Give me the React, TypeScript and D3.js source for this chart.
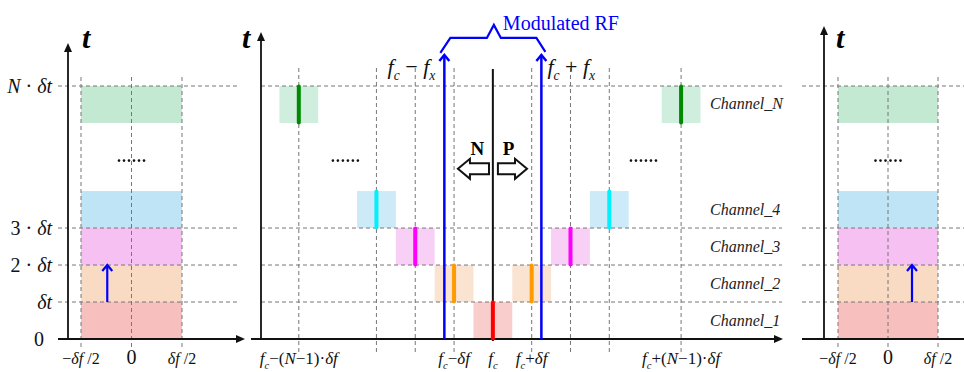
import * as d3 from "d3";

const FONT = "Liberation Serif, DejaVu Serif, serif";
const W = 964;
const H = 372;

type Part = [string, "r" | "i" | "s" | "b"];

// time axis (units of δt)
const timeTicks = [0, 1, 2, 3, 6.84];
const timeTickLabels: Part[][] = [
  [["0", "r"]],
  [["δt", "i"]],
  [["2 · ", "r"], ["δt", "i"]],
  [["3 · ", "r"], ["δt", "i"]],
  [["N", "i"], [" · ", "r"], ["δt", "i"]],
];
const gridTimes = [1, 2, 3, 6.84];

// channels
const channelNames = ["Channel_1", "Channel_2", "Channel_3", "Channel_4", "Channel_N"];
const channelStart = [0, 1, 2, 3, 5.84];
const channelFill = ["#f7bfbe", "#f9dbc4", "#f6c1f2", "#bfe4f6", "#c3e9d3"];
const channelBar = ["#ff0000", "#ff9a00", "#ff00ff", "#00f0ff", "#008a00"];
const lowerOffset = [0, -1, -2, -3, -5]; // δf units from fc
const upperOffset = [0, 1, 2, 3, 4.85];

// frequency grid of the middle panel (δf units)
const gridOffsets = [-5, -3, -2, -1, 1, 2, 3, 4.85];
const freqLabelOffsets = [-5, -1, 0, 1, 4.85];
const freqLabels: Part[][] = [
  [["f", "i"], ["c", "s"], ["−(", "r"], ["N", "i"], ["−1)·", "r"], ["δf", "i"]],
  [["f", "i"], ["c", "s"], ["−", "r"], ["δf", "i"]],
  [["f", "i"], ["c", "s"]],
  [["f", "i"], ["c", "s"], ["+", "r"], ["δf", "i"]],
  [["f", "i"], ["c", "s"], ["+(", "r"], ["N", "i"], ["−1)·", "r"], ["δf", "i"]],
];
const fxOffset = 1.25;
const fxTop = 7.68;
const carrierTop = 7.3;
const midDots = [-3.8, 3.88];
const dotsTime = 4.85;
const npArrowTime = 4.6;
const npArrows = [
  { tip: -0.9, tail: -0.1, label: "N" },
  { tip: 0.88, tail: 0.13, label: "P" },
];

// baseband panels (δf units)
const baseTicks = [-0.5, 0, 0.5];
const baseTickLabels: Part[][] = [
  [["−", "r"], ["δf", "i"], [" /2", "r"]],
  [["0", "r"]],
  [["δf", "i"], [" /2", "r"]],
];
const baseArrow = [-0.24, 0.24];

const y = d3.scaleLinear().domain([0, 6.84]).range([339, 86]);
const xMid = d3.scaleLinear().domain([-6, 7.45]).range([260, 782]);

function Rich({ parts, x, yy, size, anchor = "start", fill = "#111" }: { parts: Part[]; x: number; yy: number; size: number; anchor?: string; fill?: string }) {
  let sub = false;
  return (
    <text x={x} y={yy} style={{ fontFamily: FONT }} fontSize={size} textAnchor={anchor} fill={fill}>
      {parts.map(([t, s], i) => {
        const isSub = s === "s";
        const dy = isSub && !sub ? size * 0.28 : !isSub && sub ? -size * 0.28 : 0;
        sub = isSub;
        return (
          <tspan
            key={i}
            dy={dy || undefined}
            fontStyle={s === "r" || s === "b" ? "normal" : "italic"}
            fontWeight={s === "b" ? "bold" : "normal"}
            fontSize={isSub ? size * 0.62 : size}
          >
            {t}
          </tspan>
        );
      })}
    </text>
  );
}

function Dots({ x, yy }: { x: number; yy: number }) {
  return (
    <g fill="#111">
      {d3.range(6).map((k) => (
        <circle key={k} cx={x + (k - 2.5) * 5} cy={yy} r={1.3} />
      ))}
    </g>
  );
}

function UpArrow({ x, y1, y2, w = 2.5 }: { x: number; y1: number; y2: number; w?: number }) {
  return (
    <g stroke="#0000ff" strokeWidth={w} fill="none">
      <line x1={x} x2={x} y1={y1} y2={y2} />
      <path d={`M${x - 5},${y2 + 6} L${x},${y2} L${x + 5},${y2 + 6}`} />
    </g>
  );
}

function Axes({ ax, tipY, x0, x1, arrowX }: { ax: number; tipY: number; x0: number; x1: number; arrowX: boolean }) {
  const y0 = y(0);
  return (
    <g>
      <line x1={ax} x2={ax} y1={y0} y2={tipY + 6} stroke="#111" strokeWidth={1.8} />
      <path d={`M${ax - 4},${tipY + 9} L${ax},${tipY} L${ax + 4},${tipY + 9} Z`} fill="#111" />
      <line x1={x0} x2={arrowX ? x1 - 6 : x1} y1={y0} y2={y0} stroke="#111" strokeWidth={1.8} />
      {arrowX && <path d={`M${x1 - 9},${y0 - 4} L${x1},${y0} L${x1 - 9},${y0 + 4} Z`} fill="#111" />}
    </g>
  );
}

function TLabel({ x }: { x: number }) {
  return (
    <text x={x} y={48} style={{ fontFamily: FONT }} fontSize={30} fontStyle="italic" fontWeight="bold">t</text>
  );
}

function BasePanel({ range, ax, tipY, x0, x1, arrowX, arrowOff, showTicks, tX }: {
  range: [number, number]; ax: number; tipY: number; x0: number; x1: number; arrowX: boolean; arrowOff: number; showTicks: boolean; tX: number;
}) {
  const x = d3.scaleLinear().domain([-0.5, 0.5]).range(range);
  const bw = x(0.5) - x(-0.5);
  return (
    <g>
      {channelStart.map((s, i) => (
        <rect key={i} x={x(-0.5)} y={y(s + 1)} width={bw} height={y(s) - y(s + 1)} fill={channelFill[i]} />
      ))}
      {gridTimes.map((t) => (
        <line key={t} x1={x0} x2={x1} y1={y(t)} y2={y(t)} stroke="#777" strokeDasharray="4,3" strokeWidth={1} />
      ))}
      {baseTicks.map((v) => (
        <line key={v} x1={x(v)} x2={x(v)} y1={77} y2={347} stroke="#777" strokeDasharray="4,3" strokeWidth={1} />
      ))}
      <Axes ax={ax} tipY={tipY} x0={x0} x1={arrowX ? x1 + 7 : x1} arrowX={arrowX} />
      <UpArrow x={x(arrowOff)} y1={y(1)} y2={y(2)} w={2.2} />
      <Dots x={x(0)} yy={y(dotsTime) + 1} />
      {baseTicks.map((v, i) => (
        <Rich key={v} parts={baseTickLabels[i]} x={x(v)} yy={364} size={v === 0 ? 20 : 16} anchor="middle" />
      ))}
      {showTicks &&
        timeTicks.map((t, i) => (
          <Rich key={t} parts={timeTickLabels[i]} x={t === 0 ? 44 : 52} yy={y(t) + 7} size={20} anchor="end" />
        ))}
      <TLabel x={tX} />
    </g>
  );
}

function blockArrow(tip: number, tail: number, cy: number) {
  const dir = tail > tip ? 1 : -1;
  const hb = tip + dir * 12;
  const hh = 10;
  const sh = 5.5;
  return `M${tip},${cy} L${hb},${cy - hh} L${hb},${cy - sh} L${tail},${cy - sh} L${tail},${cy + sh} L${hb},${cy + sh} L${hb},${cy + hh} Z`;
}

export default function App() {
  const bw = xMid(0.5) - xMid(-0.5);
  const fc = xMid(0);
  const xL = xMid(-fxOffset);
  const xR = xMid(fxOffset);
  const tipY = y(fxTop);
  const xC = (xL + xR) / 2;
  const brace = [
    [xL - 4, tipY - 2],
    [xL + 6, tipY - 17],
    [xC - 6, tipY - 17],
    [xC + 1, tipY - 30],
    [xC + 8, tipY - 17],
    [xR - 5, tipY - 17],
    [xR + 4, tipY - 3],
  ] as [number, number][];

  return (
    <svg width={W} height={H} style={{ position: "absolute", left: 0, top: 0, background: "#fff" }}>
      <rect width={W} height={H} fill="#fff" />

      <BasePanel range={[81, 182]} ax={68} tipY={43} x0={58} x1={238} arrowX arrowOff={baseArrow[0]} showTicks tX={82} />

      {/* middle panel */}
      <g>
        {channelStart.map((s, i) => {
          const offs = i === 0 ? [0] : [lowerOffset[i], upperOffset[i]];
          return offs.map((o) => (
            <rect key={`${i}-${o}`} x={xMid(o) - bw / 2} y={y(s + 1)} width={bw} height={y(s) - y(s + 1)} fill={channelFill[i]} fillOpacity={0.78} />
          ));
        })}
        {gridTimes.map((t) => (
          <line key={t} x1={261} x2={782} y1={y(t)} y2={y(t)} stroke="#777" strokeDasharray="4,3" strokeWidth={1} />
        ))}
        {gridOffsets.map((o) => (
          <line key={o} x1={xMid(o)} x2={xMid(o)} y1={68} y2={353} stroke="#777" strokeDasharray="4,3" strokeWidth={1} />
        ))}
        <Axes ax={261} tipY={32} x0={251} x1={783} arrowX />
        <line x1={fc} x2={fc} y1={y(carrierTop)} y2={y(0) + 2} stroke="#111" strokeWidth={2} />
        {channelStart.map((s, i) => {
          const offs = i === 0 ? [0] : [lowerOffset[i], upperOffset[i]];
          return offs.map((o) => (
            <line key={`b${i}-${o}`} x1={xMid(o)} x2={xMid(o)} y1={y(s) - 0.5} y2={y(s + 1) + 0.5} stroke={channelBar[i]} strokeWidth={4} strokeLinecap="round" />
          ));
        })}
        <UpArrow x={xL} y1={y(0)} y2={tipY} />
        <UpArrow x={xR} y1={y(0)} y2={tipY} />
        <path d={d3.line()(brace) || ""} fill="none" stroke="#0000ff" strokeWidth={2.2} />
        <text x={xC + 10} y={30} style={{ fontFamily: FONT }} fontSize={20} fill="#0000ff">Modulated RF</text>
        <Rich parts={[["f", "i"], ["c", "s"], [" − ", "r"], ["f", "i"], ["x", "s"]]} x={xL - 9} yy={74} size={22} anchor="end" />
        <Rich parts={[["f", "i"], ["c", "s"], [" + ", "r"], ["f", "i"], ["x", "s"]]} x={xR + 6} yy={74} size={22} />
        {npArrows.map((a) => (
          <g key={a.label}>
            <path d={blockArrow(xMid(a.tip), xMid(a.tail), y(npArrowTime))} fill="#fff" stroke="#111" strokeWidth={2} />
            <text x={(xMid(a.tip) + xMid(a.tail)) / 2 + (a.tip < 0 ? 4 : -4)} y={y(npArrowTime) - 14} textAnchor="middle" style={{ fontFamily: FONT }} fontSize={19} fontWeight="bold">
              {a.label}
            </text>
          </g>
        ))}
        {midDots.map((o) => (
          <Dots key={o} x={xMid(o)} yy={y(dotsTime) + 1} />
        ))}
        {channelNames.map((c, i) => (
          <text key={c} x={710} y={y(channelStart[i] + 0.5) + 5} style={{ fontFamily: FONT }} fontSize={16} fontStyle="italic" fill="#222">{c}</text>
        ))}
        {freqLabelOffsets.map((o, i) => (
          <Rich key={o} parts={freqLabels[i]} x={xMid(o)} yy={364} size={17} anchor="middle" />
        ))}
        <TLabel x={242} />
      </g>

      <BasePanel range={[838, 938]} ax={824} tipY={26} x0={802} x1={964} arrowX={false} arrowOff={baseArrow[1]} showTicks={false} tX={836} />
    </svg>
  );
}
